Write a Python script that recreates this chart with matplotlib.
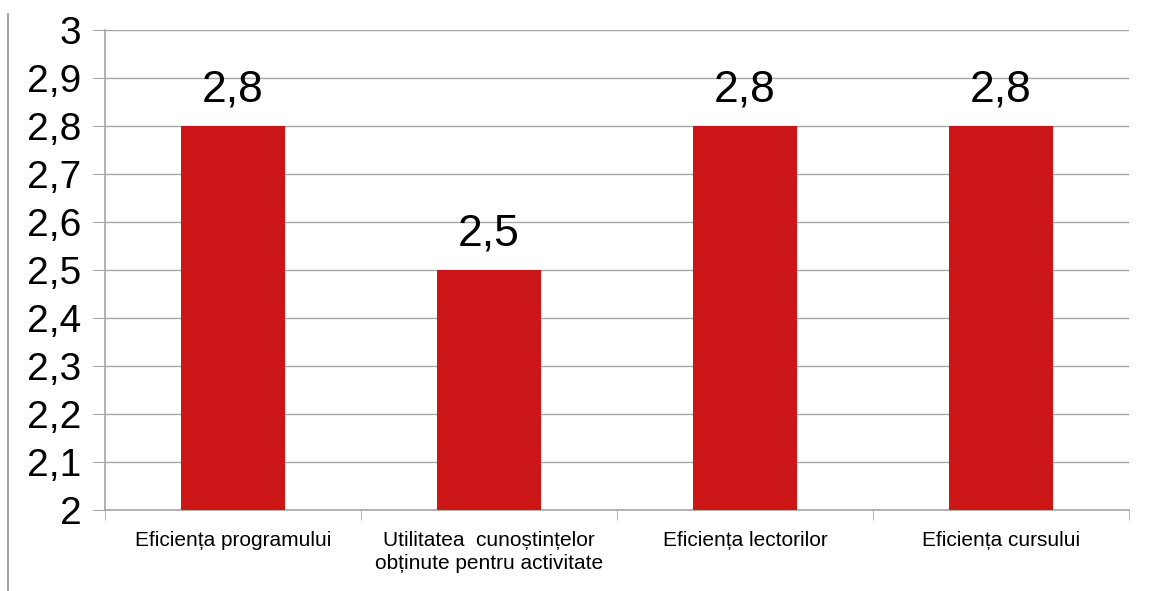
import matplotlib.pyplot as plt
import matplotlib.lines as mlines
from matplotlib.ticker import FixedLocator, FuncFormatter

categories = ["Eficiența programului",
              "Utilitatea  cunoștințelor\nobținute pentru activitate",
              "Eficiența lectorilor",
              "Eficiența cursului"]
values = [2.8, 2.5, 2.8, 2.8]
yticks = [2.0, 2.1, 2.2, 2.3, 2.4, 2.5, 2.6, 2.7, 2.8, 2.9, 3.0]

plt.rcParams['font.family'] = ['Liberation Sans', 'DejaVu Sans']

fig = plt.figure(figsize=(11.49, 5.91), dpi=100)
ax = fig.add_axes([105/1149, 1-510/591, 1024/1149, 480/591])

x = range(len(categories))
ax.bar(x, values, width=0.41, color="#cc1517", zorder=3, bottom=0)
ax.set_ylim(2, 3)
ax.set_xlim(-0.5, len(categories)-0.5)
ax.yaxis.set_major_locator(FixedLocator(yticks))
ax.yaxis.set_major_formatter(FuncFormatter(lambda v, p: ("%g" % round(v, 1)).replace(".", ",")))
ax.grid(axis="y", color="#a6a6a6", linewidth=1, zorder=0)
ax.set_axisbelow(True)

for s in ["top", "right"]:
    ax.spines[s].set_visible(False)
for s in ["left", "bottom"]:
    ax.spines[s].set_color("#a6a6a6")
    ax.spines[s].set_linewidth(1.2)

ax.tick_params(axis="y", length=9, color="#a6a6a6", labelsize=28, pad=8)
ax.set_xticks(x)
ax.set_xticklabels(categories, fontsize=15, linespacing=1.25)
ax.xaxis.set_minor_locator(FixedLocator([i - 0.5 for i in range(len(categories)+1)]))
ax.tick_params(axis="x", which="major", length=0, pad=15)
ax.tick_params(axis="x", which="minor", length=7, color="#a6a6a6")

for i, v in enumerate(values):
    ax.annotate(("%g" % v).replace(".", ","), (i, v), xytext=(0, 11),
                textcoords="offset points", ha="center", va="bottom", fontsize=32)

fig.add_artist(mlines.Line2D([8/1149, 8/1149], [0, 1-14/591], color="#a6a6a6", linewidth=1.5))

fig.savefig("out.png", dpi=100)
